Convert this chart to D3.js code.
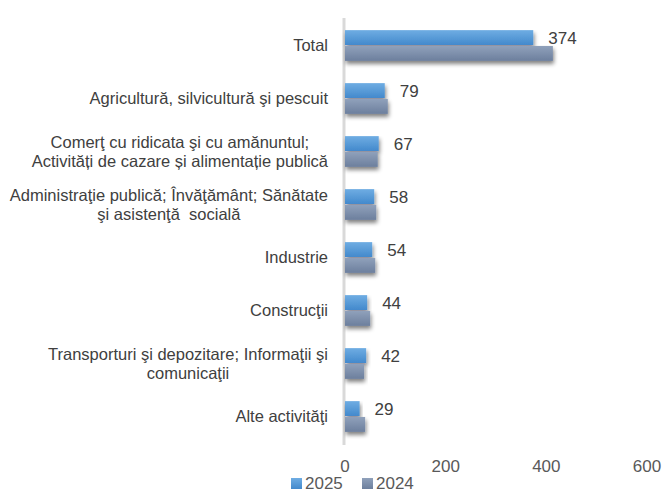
<!DOCTYPE html>
<html><head><meta charset="utf-8">
<script src="https://cdn.jsdelivr.net/npm/d3@7"></script>
<style>body{margin:0;background:#fff}svg{display:block}text{white-space:pre}</style>
</head><body>
<svg id="c" width="662" height="492"></svg>
<script>
const categories = [
  ["Total"],
  ["Agricultură, silvicultură şi pescuit"],
  ["Comerţ cu ridicata şi cu amănuntul;", "Activități de cazare și alimentație publică"],
  ["Administraţie publică; Învăţământ; Sănătate", "şi asistenţă  socială"],
  ["Industrie"],
  ["Construcţii"],
  ["Transporturi şi depozitare; Informaţii şi", "comunicaţii"],
  ["Alte activităţi"]
];
const series = ["2025", "2024"];
const values2025 = [374, 79, 67, 58, 54, 44, 42, 29];
const values2024 = [413, 85, 65, 62, 60, 50, 38, 40];
const xTicks = [0, 200, 400, 600];

const svg = d3.select("#c");
const defs = svg.append("defs");
function grad(id, c1, c2) {
  const g = defs.append("linearGradient").attr("id", id).attr("x1", 0).attr("y1", 0).attr("x2", 0).attr("y2", 1);
  g.append("stop").attr("offset", "0%").attr("stop-color", c1);
  g.append("stop").attr("offset", "100%").attr("stop-color", c2);
}
grad("g2025", "#6fade3", "#4389cc");
grad("g2024", "#90a1bb", "#6c7f9d");
const f = defs.append("filter").attr("id", "sh").attr("x", "-10%").attr("y", "-20%").attr("width", "130%").attr("height", "180%");
f.append("feGaussianBlur").attr("in", "SourceAlpha").attr("stdDeviation", 2);
f.append("feOffset").attr("dx", 1).attr("dy", 3).attr("result", "ob");
f.append("feComponentTransfer").append("feFuncA").attr("type", "linear").attr("slope", 0.5);
const m = f.append("feMerge"); m.append("feMergeNode"); m.append("feMergeNode").attr("in", "SourceGraphic");

const x = d3.scaleLinear().domain([0, 600]).range([345, 647]);
const idx = d3.range(categories.length);
const y = d3.scaleBand().domain(idx).range([19, 443]).paddingInner(0.42).paddingOuter(0.21);
const ys = d3.scaleBand().domain(series).range([0, y.bandwidth()]).paddingInner(0.06);
const colors = {"2025": "url(#g2025)", "2024": "url(#g2024)"};
const data = {"2025": values2025, "2024": values2024};

// axis line
svg.append("line").attr("x1", x(0) - 1).attr("x2", x(0) - 1).attr("y1", 18).attr("y2", 445)
  .attr("stroke", "#d9d9d9").attr("stroke-width", 3);

const bars = svg.append("g");
idx.forEach(i => {
  series.forEach(s => {
    bars.append("rect")
      .attr("x", x(0)).attr("y", y(i) + ys(s))
      .attr("width", x(data[s][i]) - x(0)).attr("height", ys.bandwidth())
      .attr("fill", colors[s]).attr("filter", "url(#sh)");
  });
});

// value labels (2025)
svg.append("g").selectAll("text").data(idx).join("text")
  .attr("x", i => x(values2025[i]) + 15)
  .attr("y", i => y(i) + ys("2025") + ys.bandwidth() / 2)
  .attr("dy", "0.35em")
  .attr("font-family", "Liberation Sans, Arial, sans-serif").attr("font-size", 17)
  .attr("fill", "#404040")
  .text(i => values2025[i]);

// category labels
const lh = 19;
const cl = svg.append("g").attr("font-family", "Liberation Sans, Arial, sans-serif")
  .attr("font-size", 16.5).attr("fill", "#404040");
idx.forEach(i => {
  const lines = categories[i];
  const cy = y(i) + y.bandwidth() / 2;
  const t = cl.append("text").attr("y", cy - (lines.length - 1) * lh / 2);
  lines.forEach((ln, k) => {
    t.append("tspan").attr("x", 0).attr("dy", k === 0 ? "0.35em" : lh).text(ln);
  });
  const tsp = t.selectAll("tspan").nodes();
  const maxW = d3.max(tsp.map(n => n.getComputedTextLength()));
  const right = 328;
  tsp.forEach(n => d3.select(n).attr("x", right - maxW / 2).attr("text-anchor", "middle"));
});

// x tick labels
svg.append("g").selectAll("text").data(xTicks).join("text")
  .attr("x", d => x(d)).attr("y", 466).attr("dy", "0.35em").attr("text-anchor", "middle")
  .attr("font-family", "Liberation Sans, Arial, sans-serif").attr("font-size", 17).attr("fill", "#595959")
  .text(d => d);

// legend
const lg = svg.append("g").attr("font-family", "Liberation Sans, Arial, sans-serif").attr("font-size", 17).attr("fill", "#595959");
const lx = [291, 362];
series.forEach((s, k) => {
  lg.append("rect").attr("x", lx[k]).attr("y", 478).attr("width", 11).attr("height", 11).attr("fill", colors[s]);
  lg.append("text").attr("x", lx[k] + 14).attr("y", 483.5).attr("dy", "0.35em").text(s);
});
</script>
</body></html>
